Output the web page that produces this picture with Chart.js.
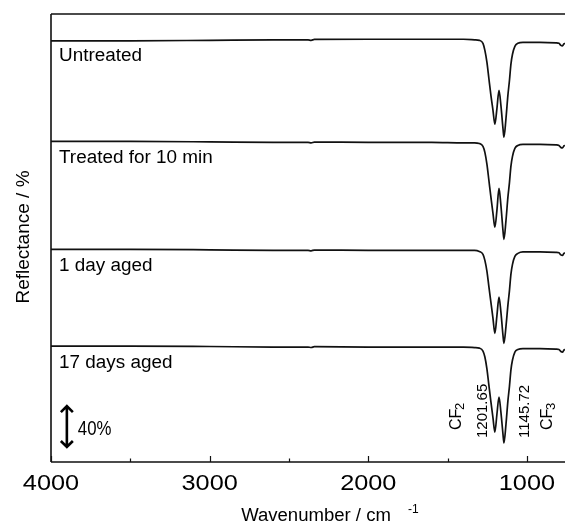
<!DOCTYPE html>
<html>
<head>
<meta charset="utf-8">
<script src="https://cdn.jsdelivr.net/npm/chart.js@4/dist/chart.umd.min.js"></script>
<style>
  html, body { margin: 0; padding: 0; background: #fff; }
  canvas { display: block; }
</style>
</head>
<body>
<canvas id="chartSpectra" width="565" height="522"></canvas>
<script>
// wavenumber grid (cm-1), shared by all four spectra
const wavenumbers = [4000, 3500, 3000, 2600, 2380, 2360, 2340, 2000, 1600, 1400, 1330, 1300, 1277, 1265, 1252, 1240, 1227, 1214, 1202, 1189, 1176, 1164, 1151, 1145, 1132, 1120, 1110, 1101, 1091, 1076, 1057, 1025, 918, 817, 798, 786, 776, 767, 760];

// reflectance (%), before stacking
const untreated = [91.5, 91.5, 92, 92.5, 92.5, 92, 92.8, 93, 93, 93, 92.5, 92, 89.2, 82.7, 71.5, 56.7, 40.8, 26.9, 13.9, 28.7, 45.5, 31.5, 10.1, 1.8, 19.4, 40.8, 54.8, 69.7, 79, 86.4, 89.2, 90.1, 90.1, 89.7, 89.2, 87.3, 86.9, 88.7, 89.2];
const treated10 = [92.9, 92.9, 92.5, 92, 92, 91.6, 92.3, 92, 92, 91.5, 91.5, 91, 88.3, 82.7, 71.5, 57, 41, 26, 13, 29, 49.2, 33.4, 10.1, 1.8, 19.4, 40.8, 54.8, 69.7, 79, 86.4, 89.2, 90.1, 90.1, 89.7, 89.2, 87.3, 86.9, 88.7, 89.2];
const aged1 = [92.9, 92.9, 92.5, 92, 92, 91.6, 92.3, 92, 92, 92, 92, 91, 88.3, 82.7, 72.5, 58.5, 43.6, 28.7, 14.8, 31.5, 48.4, 34.5, 13, 5.5, 21.3, 40.8, 54.8, 69.7, 79, 86.4, 89.2, 90.6, 90.6, 90.1, 89.7, 87.8, 87.3, 89.2, 89.7];
const aged17 = [92.9, 92.9, 92.5, 92, 92, 91.6, 92.3, 92, 92, 92, 91.5, 91, 88.3, 82.7, 71.5, 56.7, 40.9, 26, 12.9, 29.7, 45.5, 31.5, 11, 2.7, 20.3, 41.7, 55.7, 70.6, 79.9, 87.3, 89.7, 90.6, 90.6, 90.1, 89.7, 87.8, 87.3, 89.2, 89.7];

const traceNames = ['Untreated', 'Treated for 10 min', '1 day aged', '17 days aged'];
const traceOffsets = [300.5, 205.5, 105, 15];
const traceSeries = [untreated, treated10, aged1, aged17];

const majorTicks = [4000, 3000, 2000, 1000];
const minorTicks = [3500, 2500, 1500];
const peakLabels = ['1201.65', '1145.72'];

const FONT = "'Liberation Sans', Arial, sans-serif";

function txt(ctx, s, x, y, size, opts = {}) {
    ctx.save();
    ctx.font = size + 'px ' + FONT;
    ctx.fillStyle = '#000';
    ctx.textAlign = opts.align || 'left';
    ctx.textBaseline = 'alphabetic';
    ctx.translate(x, y);
    if (opts.rot) ctx.rotate(opts.rot);
    if (opts.sx) ctx.scale(opts.sx, 1);
    ctx.fillText(s, 0, 0);
    ctx.restore();
}

const decor = {
    id: 'decor',
    afterDraw(chart) {
        const ctx = chart.ctx, a = chart.chartArea;
        const xs = chart.scales.x, ys = chart.scales.y;
        ctx.save();
        ctx.strokeStyle = '#111';
        ctx.lineWidth = 1.6;
        ctx.beginPath();
        ctx.moveTo(a.left, a.top); ctx.lineTo(a.right, a.top);
        ctx.moveTo(a.left, a.top); ctx.lineTo(a.left, a.bottom);
        ctx.moveTo(a.left, a.bottom); ctx.lineTo(a.right, a.bottom);
        ctx.stroke();
        // inward ticks
        ctx.lineWidth = 1.2;
        ctx.beginPath();
        majorTicks.forEach(v => { const p = Math.round(xs.getPixelForValue(v)) + 0.5; ctx.moveTo(p, a.bottom); ctx.lineTo(p, a.bottom - 6); });
        minorTicks.forEach(v => { const p = Math.round(xs.getPixelForValue(v)) + 0.5; ctx.moveTo(p, a.bottom); ctx.lineTo(p, a.bottom - 3.5); });
        ctx.stroke();
        ctx.restore();

        majorTicks.forEach(v => txt(ctx, String(v), xs.getPixelForValue(v), a.bottom + 28, 22, { align: 'center', sx: 1.15 }));

        txt(ctx, 'Wavenumber / cm', 316, 521, 18, { align: 'center', sx: 1.03 });
        txt(ctx, '-1', 408, 513, 12);
        txt(ctx, 'Reflectance / %', 29, 237, 19, { align: 'center', rot: -Math.PI / 2 });

        traceNames.forEach((n, i) => {
            const yb = ys.getPixelForValue(traceOffsets[i] + 92) + 21;
            txt(ctx, n, 59, yb, 18, { sx: 1.05 });
        });

        // peak annotations (read bottom-to-top)
        const rot = -Math.PI / 2;
        txt(ctx, 'CF', 461, 430, 16, { rot });
        txt(ctx, '2', 464, 410, 13, { rot });
        txt(ctx, peakLabels[0], 487, 438, 15, { rot });
        txt(ctx, peakLabels[1], 529, 438, 15, { rot });
        txt(ctx, 'CF', 552, 430, 16, { rot });
        txt(ctx, '3', 555, 410, 13, { rot });

        // 40 % scale bar
        const bx = xs.getPixelForValue(3900);
        const y1 = ys.getPixelForValue(53), y2 = ys.getPixelForValue(13);
        ctx.save();
        ctx.strokeStyle = '#000';
        ctx.lineWidth = 2.6;
        ctx.lineJoin = 'miter';
        ctx.beginPath();
        ctx.moveTo(bx, y1 + 1); ctx.lineTo(bx, y2 - 1);
        ctx.moveTo(bx - 6, y1 + 7); ctx.lineTo(bx, y1 + 1); ctx.lineTo(bx + 6, y1 + 7);
        ctx.moveTo(bx - 6, y2 - 7); ctx.lineTo(bx, y2 - 1); ctx.lineTo(bx + 6, y2 - 7);
        ctx.stroke();
        ctx.restore();
        txt(ctx, '40%', bx + 11, (y1 + y2) / 2 + 8, 21, { sx: 0.8 });
    }
};

const datasets = traceSeries.map((s, i) => ({
    label: traceNames[i],
    data: wavenumbers.map((w, j) => ({ x: w, y: s[j] + traceOffsets[i] })),
    borderColor: '#111',
    borderWidth: 1.7,
    pointRadius: 0,
    fill: false,
    cubicInterpolationMode: 'monotone'
}));

new Chart(document.getElementById('chartSpectra'), {
    type: 'line',
    data: { datasets },
    options: {
        responsive: false,
        animation: false,
        devicePixelRatio: 1,
        layout: { padding: { left: 51, top: 14, right: 0, bottom: 60 } },
        plugins: { legend: { display: false }, tooltip: { enabled: false } },
        scales: {
            x: { type: 'linear', reverse: true, min: 760, max: 4000, display: false },
            y: { type: 'linear', min: 0, max: 417, display: false }
        }
    },
    plugins: [decor]
});
</script>
</body>
</html>
